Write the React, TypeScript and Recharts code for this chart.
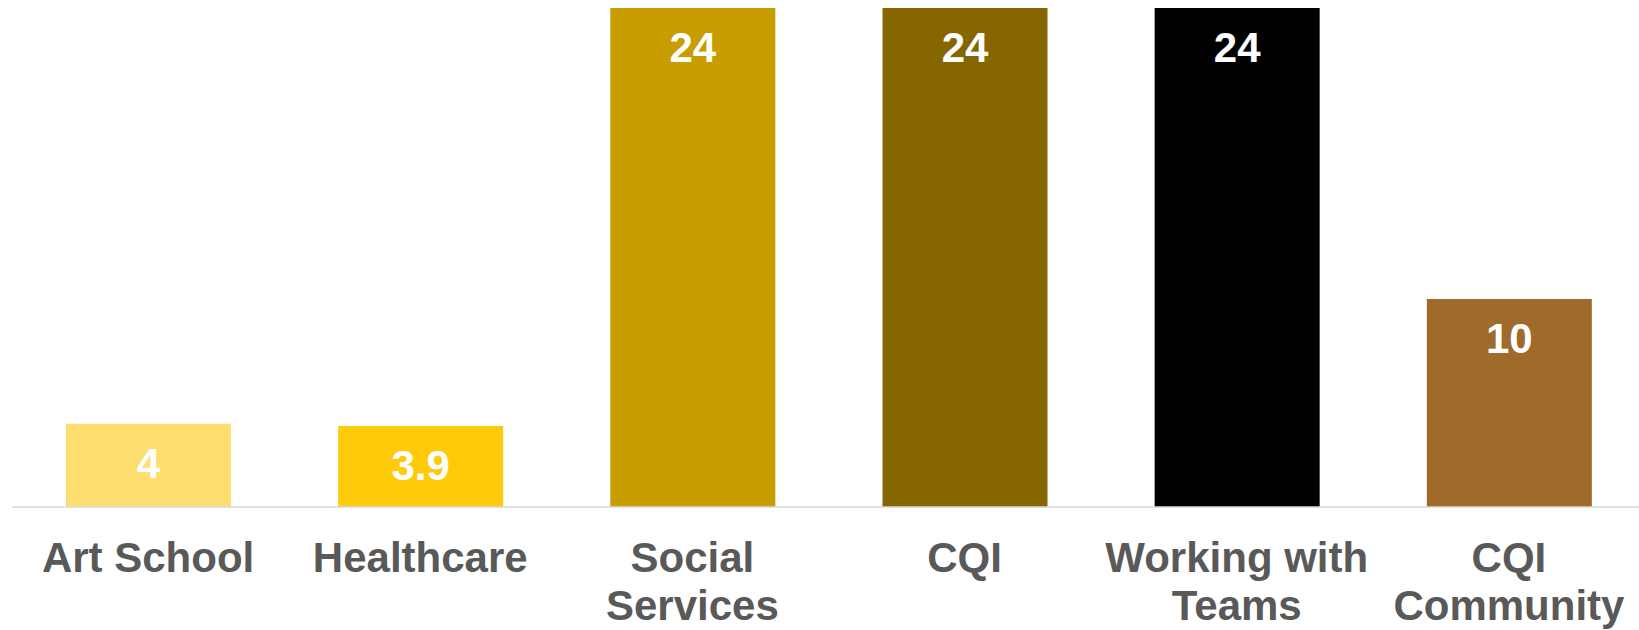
import { BarChart, Bar, XAxis, YAxis, Cell, LabelList } from 'recharts';

const categories = ['Art School', 'Healthcare', 'Social Services', 'CQI', 'Working with Teams', 'CQI Community'];
const tickLines = [['Art School'], ['Healthcare'], ['Social', 'Services'], ['CQI'], ['Working with', 'Teams'], ['CQI', 'Community']];
const values = [4, 3.9, 24, 24, 24, 10];
const barColors = ['#FDDE6E', '#FECA0A', '#C89D00', '#856600', '#000000', '#A06A2B'];

const data = categories.map((name, i) => ({ name, value: values[i] }));

const FONT = '"Liberation Sans", Arial, sans-serif';

function CategoryTick(props: any) {
  const { x, y, index } = props;
  const lines = tickLines[index] || [];
  return (
    <text
      x={x}
      y={y + 57}
      textAnchor="middle"
      fill="#595959"
      fontFamily={FONT}
      fontWeight="bold"
      fontSize={42}
    >
      {lines.map((line, i) => (
        <tspan key={i} x={x} dy={i === 0 ? 0 : 48}>
          {line}
        </tspan>
      ))}
    </text>
  );
}

export default function App() {
  // chart runs a few px past the right edge, like the original slide
  return (
    <div style={{ position: 'absolute', left: 0, top: 0, width: 1639, height: 630, overflow: 'hidden', background: '#fff' }}>
      <BarChart
        width={1645}
        height={630}
        data={data}
        margin={{ top: 8, right: 0, bottom: 0, left: 12 }}
      >
        <XAxis
          dataKey="name"
          height={123}
          interval={0}
          tickLine={false}
          axisLine={{ stroke: '#d9d9d9', strokeWidth: 1.5 }}
          tick={<CategoryTick />}
        />
        <YAxis hide domain={[0, 24]} />
        <Bar dataKey="value" barSize={165} isAnimationActive={false}>
          {data.map((entry, index) => (
            <Cell key={`cell-${index}`} fill={barColors[index]} />
          ))}
          <LabelList
            dataKey="value"
            position="insideTop"
            offset={24}
            fill="#ffffff"
            fontFamily={FONT}
            fontWeight="bold"
            fontSize={42}
          />
        </Bar>
      </BarChart>
    </div>
  );
}
